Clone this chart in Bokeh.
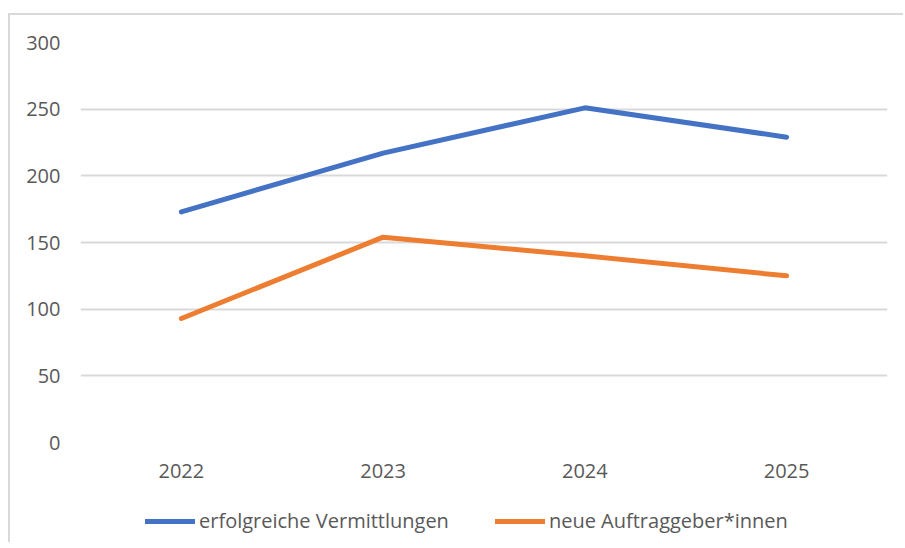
from bokeh.plotting import figure
from bokeh.layouts import column
from bokeh.models import Range1d, FactorRange, Legend, LegendItem, FixedTicker
from bokeh.embed import file_html
from bokeh.resources import INLINE

# ---- data ----
years = ["2022", "2023", "2024", "2025"]
vermittlungen = [173, 217, 251, 229]
auftraggeber = [93, 154, 140, 125]
y_ticks = [0, 50, 100, 150, 200, 250, 300]
series_names = ["erfolgreiche Vermittlungen", "neue Auftraggeber*innen"]

FONT = "'Open Sans', sans-serif"
TXT = "#595959"
GRID = "#d9d9d9"
BLUE = "#4472C4"
ORANGE = "#ED7D31"

# ---- main chart ----
p = figure(
    x_range=FactorRange(*years, range_padding=0),
    y_range=Range1d(0, 300),
    frame_width=807, frame_height=400,
    output_backend="svg", toolbar_location=None,
    min_border_left=70, min_border_right=16,
    min_border_top=27, min_border_bottom=55,
)
p.outline_line_color = None
p.background_fill_color = "white"
p.border_fill_color = "white"

p.line(years, vermittlungen, line_color=BLUE, line_width=5,
       line_cap="round", line_join="round")
p.line(years, auftraggeber, line_color=ORANGE, line_width=5,
       line_cap="round", line_join="round")

p.yaxis.ticker = FixedTicker(ticks=y_ticks)
for ax in (p.xaxis[0], p.yaxis[0]):
    ax.axis_line_color = None
    ax.major_tick_line_color = None
    ax.minor_tick_line_color = None
    ax.major_tick_out = 0
    ax.major_tick_in = 0
    ax.major_label_text_font = FONT
    ax.major_label_text_font_size = "20px"
    ax.major_label_text_color = TXT
p.yaxis.major_label_standoff = 20
p.xaxis.major_label_standoff = 21

p.xgrid.grid_line_color = None
p.ygrid.grid_line_color = GRID
p.ygrid.grid_line_width = 2

# ---- legend strip (same series, out of view; legend shown inside frame) ----
leg = figure(
    x_range=FactorRange(*years, range_padding=0),
    y_range=Range1d(1000, 1001),
    width=893, height=45,
    output_backend="svg", toolbar_location=None,
    x_axis_type=None, y_axis_type=None,
    min_border_left=0, min_border_right=0, min_border_top=0, min_border_bottom=0,
)
leg.outline_line_color = None
leg.xgrid.grid_line_color = None
leg.ygrid.grid_line_color = None
leg.border_fill_color = "white"
lr1 = leg.line(years, vermittlungen, line_color=BLUE, line_width=5, line_cap="round")
lr2 = leg.line(years, auftraggeber, line_color=ORANGE, line_width=5, line_cap="round")

legend = Legend(
    items=[LegendItem(label=series_names[0], renderers=[lr1]),
           LegendItem(label=series_names[1], renderers=[lr2])],
    orientation="horizontal",
    location=(65, 8),
    border_line_color=None, background_fill_alpha=0,
    padding=0, margin=0, spacing=46, label_standoff=4,
    glyph_width=50, glyph_height=20, label_height=20,
    label_text_font=FONT, label_text_font_size="20px", label_text_color=TXT,
)
leg.add_layout(legend, "center")

layout = column(p, leg, spacing=0,
                styles={"border-top": "2px solid #d9d9d9",
                        "border-left": "2px solid #d9d9d9",
                        "margin-top": "13px", "margin-left": "8px"})

open("out.html", "w").write(file_html(layout, INLINE))
